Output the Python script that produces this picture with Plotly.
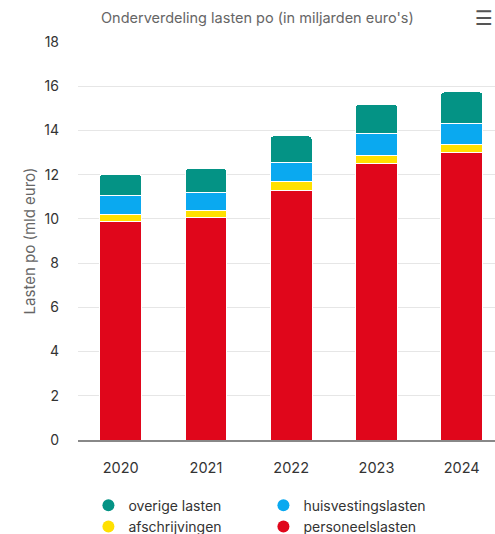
import plotly.graph_objects as go

years = ["2020", "2021", "2022", "2023", "2024"]
personeelslasten = [9.9, 10.05, 11.3, 12.5, 13.0]
afschrijvingen = [0.3, 0.33, 0.38, 0.36, 0.35]
huisvestingslasten = [0.85, 0.8, 0.86, 1.02, 0.97]
overige_lasten = [0.97, 1.09, 1.21, 1.3, 1.42]

series = [
    ("personeelslasten", personeelslasten, "#E0061B"),
    ("afschrijvingen", afschrijvingen, "#FFE000"),
    ("huisvestingslasten", huisvestingslasten, "#0AA9F0"),
    ("overige lasten", overige_lasten, "#049385"),
]
legend_order = ["overige lasten", "huisvestingslasten", "afschrijvingen", "personeelslasten"]

FONT = "Inter"
fig = go.Figure()
for name, vals, col in series:
    fig.add_trace(go.Bar(
        x=years, y=vals, name=name, marker=dict(color=col, line=dict(color="white", width=1)),
        width=0.49, showlegend=False,
    ))
cmap = {n: c for n, _, c in series}
for name in legend_order:
    fig.add_trace(go.Scatter(
        x=[None], y=[None], mode="markers", name=name,
        marker=dict(symbol="circle", size=13, color=cmap[name]),
    ))

fig.update_layout(
    width=495, height=534,
    barmode="stack", barcornerradius=3,
    plot_bgcolor="white", paper_bgcolor="white",
    margin=dict(l=78, r=0, t=42, b=94, autoexpand=False),
    font=dict(family=FONT, color="#333333"),
    title=dict(text="Onderverdeling lasten po (in miljarden euro's)", x=0.52, xanchor="center",
               y=1 - 18 / 534, yanchor="middle", font=dict(size=14.5, color="#666666", family=FONT)),
    xaxis=dict(range=[-0.5, 4.39], showgrid=False, tickfont=dict(size=14.5, color="#333333"),
               showline=True, linecolor="#888888", linewidth=1.5, ticks="", ticklabelstandoff=14),
    yaxis=dict(range=[0, 18], dtick=2, gridcolor="#E6E6E6", gridwidth=1, zeroline=False,
               tickfont=dict(size=14, color="#333333"), ticklabelstandoff=18,
               title=dict(text="Lasten po (mld euro)", font=dict(size=15, color="#666666"), standoff=5)),
    legend=dict(orientation="h", x=0.025, xanchor="left", y=-0.125, yanchor="top",
                entrywidth=130, entrywidthmode="pixels", font=dict(size=14, color="#333333"),
                itemsizing="constant", tracegroupgap=0, traceorder="normal"),
    hovermode=False,
)
fig.add_annotation(text="<b>☰</b>", xref="paper", yref="paper", x=1.0, y=1 + 24 / 398,
                   xanchor="right", yanchor="middle", showarrow=False,
                   font=dict(size=20, color="#555555", family="DejaVu Sans"))

fig.write_html("out.html", config={"displayModeBar": False, "staticPlot": True},
               post_script="document.body.style.margin='0';document.body.style.padding='0';")
